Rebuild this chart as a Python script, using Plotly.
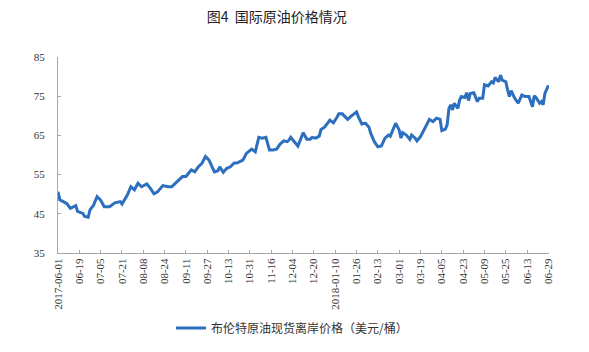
import pandas as pd
import plotly.graph_objects as go

# ---- data ----
dates = [
    "2017-06-01", "2017-06-02", "2017-06-06", "2017-06-08", "2017-06-12", "2017-06-14",
    "2017-06-15", "2017-06-16", "2017-06-21", "2017-06-22", "2017-06-26", "2017-06-27",
    "2017-06-29", "2017-07-03", "2017-07-05", "2017-07-07", "2017-07-12", "2017-07-17",
    "2017-07-20", "2017-07-21", "2017-07-26", "2017-07-28", "2017-08-01", "2017-08-03",
    "2017-08-07", "2017-08-10", "2017-08-14", "2017-08-16", "2017-08-18", "2017-08-23",
    "2017-08-28", "2017-08-30", "2017-09-04", "2017-09-07", "2017-09-11", "2017-09-14",
    "2017-09-18", "2017-09-20", "2017-09-22", "2017-09-26", "2017-09-28", "2017-10-03",
    "2017-10-05", "2017-10-06", "2017-10-10", "2017-10-12", "2017-10-16", "2017-10-18",
    "2017-10-20", "2017-10-25", "2017-10-27", "2017-11-01", "2017-11-03", "2017-11-07",
    "2017-11-09", "2017-11-13", "2017-11-15", "2017-11-17", "2017-11-21", "2017-11-23",
    "2017-11-27", "2017-11-29", "2017-11-30", "2017-12-01", "2017-12-05", "2017-12-07",
    "2017-12-12", "2017-12-14", "2017-12-18", "2017-12-19", "2017-12-21", "2017-12-27",
    "2017-12-28", "2018-01-02", "2018-01-05", "2018-01-09", "2018-01-11", "2018-01-12",
    "2018-01-16", "2018-01-18", "2018-01-19", "2018-01-23", "2018-01-26", "2018-01-29",
    "2018-01-31", "2018-02-02", "2018-02-06", "2018-02-07", "2018-02-09", "2018-02-13",
    "2018-02-15", "2018-02-19", "2018-02-21", "2018-02-22", "2018-02-26", "2018-02-27",
    "2018-03-01", "2018-03-02", "2018-03-05", "2018-03-07", "2018-03-09", "2018-03-12",
    "2018-03-14", "2018-03-15", "2018-03-19", "2018-03-21", "2018-03-23", "2018-03-26",
    "2018-03-28", "2018-04-02", "2018-04-04", "2018-04-05", "2018-04-09", "2018-04-10",
    "2018-04-11", "2018-04-12", "2018-04-13", "2018-04-16", "2018-04-18", "2018-04-19",
    "2018-04-20", "2018-04-24", "2018-04-25", "2018-04-26", "2018-04-27", "2018-05-01",
    "2018-05-03", "2018-05-04", "2018-05-08", "2018-05-09", "2018-05-11", "2018-05-15",
    "2018-05-16", "2018-05-17", "2018-05-21", "2018-05-22", "2018-05-23", "2018-05-25",
    "2018-05-29", "2018-05-30", "2018-05-31", "2018-06-04", "2018-06-06", "2018-06-08",
    "2018-06-12", "2018-06-14", "2018-06-18", "2018-06-19", "2018-06-20", "2018-06-22",
    "2018-06-25", "2018-06-26", "2018-06-27", "2018-06-28", "2018-06-29",
]
brent_prices = [
    50.6, 48.6, 48.1, 47.6, 46.4, 46.8,
    47.1, 45.6, 45.1, 44.3, 44.1, 46.0,
    47.2, 49.4, 48.5, 46.8, 46.8, 47.8,
    48.1, 47.5, 49.8, 51.9, 51.1, 52.8,
    51.9, 52.6, 51.5, 50.1, 50.6, 52.2,
    51.9, 51.9, 53.2, 54.5, 54.5, 56.2,
    55.7, 57.0, 57.9, 59.6, 58.7, 55.7,
    56.0, 57.0, 55.6, 56.6, 57.0, 57.9,
    58.0, 58.7, 60.4, 61.5, 60.8, 64.5,
    64.3, 64.5, 61.3, 61.3, 61.5, 62.8,
    63.6, 63.4, 63.8, 64.5, 63.4, 62.3,
    65.7, 64.0, 64.0, 64.5, 64.3, 64.8,
    66.5, 67.1, 68.9, 68.2, 69.6, 70.5,
    70.5, 69.4, 69.1, 69.9, 71.0, 69.8,
    67.9, 68.1, 67.1, 65.5, 63.4, 62.1,
    62.3, 64.3, 65.1, 64.8, 67.2, 68.1,
    66.4, 64.3, 65.7, 65.1, 64.0, 65.1,
    64.3, 63.6, 64.7, 66.4, 68.5, 69.1,
    68.5, 69.4, 69.1, 66.2, 66.6, 67.7,
    71.9, 72.8, 71.5, 73.2, 71.9, 74.0,
    74.9, 74.7, 75.9, 73.9, 75.7, 75.9,
    73.6, 74.5, 74.5, 77.9, 77.6, 78.7,
    78.4, 79.8, 78.7, 80.4, 79.1, 78.7,
    76.6, 74.9, 76.4, 74.5, 73.2, 75.3,
    74.9, 74.9, 72.3, 75.1, 74.7, 73.2,
    73.6, 72.8, 75.7, 76.6, 77.8,
]
# days without quotes (the axis counts trading days only)
holidays = ["2017-12-25", "2017-12-26", "2018-01-01", "2018-03-30", "2018-05-28"]

tick_dates = [
    "2017-06-01", "2017-06-19", "2017-07-05", "2017-07-21", "2017-08-08", "2017-08-24",
    "2017-09-11", "2017-09-27", "2017-10-13", "2017-10-31", "2017-11-16", "2017-12-04",
    "2017-12-20", "2018-01-10", "2018-01-26", "2018-02-13", "2018-03-01", "2018-03-19",
    "2018-04-05", "2018-04-23", "2018-05-09", "2018-05-25", "2018-06-13", "2018-06-29",
]
tick_labels = [
    "2017-06-01", "06-19", "07-05", "07-21", "08-08", "08-24",
    "09-11", "09-27", "10-13", "10-31", "11-16", "12-04",
    "12-20", "2018-01-10", "01-26", "02-13", "03-01", "03-19",
    "04-05", "04-23", "05-09", "05-25", "06-13", "06-29",
]
y_ticks = [35, 45, 55, 65, 75, 85]

title_text = "图4  国际原油价格情况"
series_name = "布伦特原油现货离岸价格（美元/桶）"

# ---- trading-day scale ----
cal = pd.bdate_range(dates[0], dates[-1])
cal = cal[~cal.isin(pd.to_datetime(holidays))]
x_pos = cal.get_indexer(pd.to_datetime(dates))
tick_pos = cal.get_indexer(pd.to_datetime(tick_dates))

fig = go.Figure()
fig.add_trace(go.Scatter(
    x=x_pos, y=brent_prices, mode="lines", name=series_name,
    line=dict(color="#2c6fbe", width=3),
))

serif = "Liberation Serif, Times New Roman, serif"
cjk = "Noto Sans CJK SC, sans-serif"

L, R, T, B = 58, 40, 57, 99
pw, ph = 589 - L - R, 352 - T - B

fig.update_layout(
    width=589, height=352,
    margin=dict(l=L, r=R, t=T, b=B, autoexpand=False),
    paper_bgcolor="white", plot_bgcolor="white",
    title=dict(text=title_text, x=0.47, xref="container", xanchor="center",
               y=1 - 17 / 352, yref="container", yanchor="middle",
               font=dict(family=cjk, size=14, color="#222")),
    showlegend=True,
    legend=dict(x=(171 - L) / pw, xanchor="left",
                y=-(328 - (352 - B)) / ph, yanchor="middle",
                font=dict(family=cjk, size=12, color="#333"),
                bgcolor="rgba(0,0,0,0)"),
    xaxis=dict(range=[0, 276.3], tickmode="array", tickvals=tick_pos, ticktext=tick_labels,
               tickangle=-90, showgrid=False, zeroline=False, automargin=False,
               showline=True, linecolor="#a6a6a6", linewidth=1,
               ticks="inside", ticklen=3, tickcolor="#a6a6a6",
               tickfont=dict(family=serif, size=11, color="#333")),
    yaxis=dict(range=[35, 85], tickmode="array", tickvals=y_ticks,
               showgrid=False, zeroline=False, automargin=False,
               showline=True, linecolor="#a6a6a6", linewidth=1,
               ticks="inside", ticklen=3, tickcolor="#a6a6a6",
               ticklabelstandoff=10,
               tickfont=dict(family=serif, size=11, color="#333")),
)

fig.write_html("out.html")
